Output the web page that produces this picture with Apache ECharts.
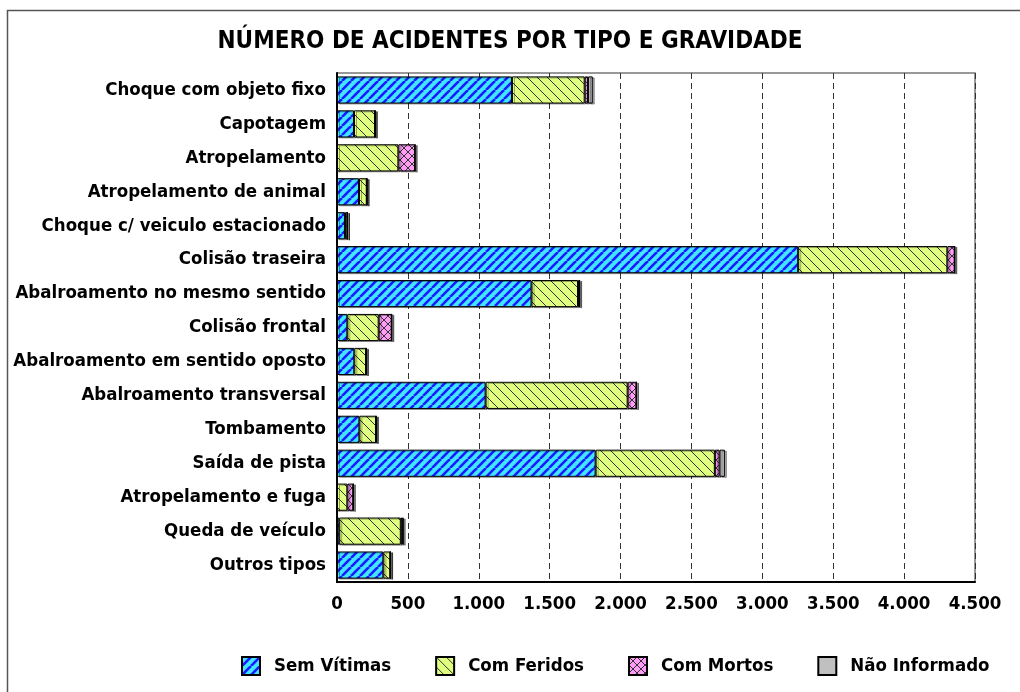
<!DOCTYPE html>
<html>
<head>
<meta charset="utf-8">
<script src="https://cdn.jsdelivr.net/npm/echarts@6/dist/echarts.min.js"></script>
<style>
  html, body { margin: 0; padding: 0; background: #fff; }
  #chart { width: 1020px; height: 692px; }
</style>
</head>
<body>
<div id="chart"></div>
<script>
// categorias (de cima para baixo)
const tipos = [
  'Choque com objeto fixo', 'Capotagem', 'Atropelamento', 'Atropelamento de animal',
  'Choque c/ veiculo estacionado', 'Colisão traseira', 'Abalroamento no mesmo sentido',
  'Colisão frontal', 'Abalroamento em sentido oposto', 'Abalroamento transversal',
  'Tombamento', 'Saída de pista', 'Atropelamento e fuga', 'Queda de veículo', 'Outros tipos'
];
const semVitimas   = [1234, 120, 0, 155, 56, 3253, 1372, 73, 122, 1048, 158, 1824, 0, 16, 327];
const comFeridos   = [513, 148, 433, 55, 17, 1052, 328, 221, 83, 1002, 117, 841, 73, 434, 49];
const comMortos    = [24, 0, 118, 0, 0, 52, 11, 92, 0, 62, 0, 33, 42, 14, 0];
const naoInformado = [33, 4, 0, 4, 2, 0, 0, 0, 4, 0, 4, 38, 0, 4, 4];
const xTicks = [0, 500, 1000, 1500, 2000, 2500, 3000, 3500, 4000, 4500];

// escolhe uma fonte condensada instalada, se houver
const measure = document.createElement('canvas').getContext('2d');
function textWidth(family, size, txt) {
  measure.font = 'bold ' + size + 'px ' + family;
  return measure.measureText(txt).width;
}
function pickFont() {
  const probe = 'Choque com objeto fixo WWmm';
  const base = textWidth('monospace', 40, probe);
  const cands = ['"Liberation Sans Narrow"', '"Arial Narrow"', '"DejaVu Sans Condensed"', '"Roboto Condensed"'];
  for (const f of cands) {
    if (Math.abs(textWidth(f + ', monospace', 40, probe) - base) > 1) return f;
  }
  return '"Liberation Sans"';
}
const FONT = pickFont();
// tamanho ajustado à largura do texto no original
function fitSize(txt, target) {
  const w = textWidth(FONT, 100, txt);
  return Math.round(100 * target / w * 2) / 2;
}
const titleSize = fitSize('NÚMERO DE ACIDENTES POR TIPO E GRAVIDADE', 590);
const labelSize = fitSize('Abalroamento no mesmo sentido', 309);
const legendSize = fitSize('Não Informado', 141);

// padrões de preenchimento
function makePattern(size, bg, draw) {
  const c = document.createElement('canvas');
  c.width = size; c.height = size;
  const ctx = c.getContext('2d');
  ctx.fillStyle = bg;
  ctx.fillRect(0, 0, size, size);
  draw(ctx, size);
  return c;
}
const patSem = makePattern(9, '#40e6ff', (ctx, s) => {
  ctx.strokeStyle = '#1a1aff';
  ctx.lineWidth = 2.6;
  for (let k = -1; k <= 1; k++) {
    ctx.beginPath();
    ctx.moveTo(k * s, s); ctx.lineTo(k * s + s, 0);
    ctx.stroke();
  }
});
const patFer = makePattern(10, '#e0ff80', (ctx, s) => {
  ctx.strokeStyle = '#333';
  ctx.lineWidth = 1;
  for (let k = -1; k <= 1; k++) {
    ctx.beginPath();
    ctx.moveTo(k * s, 0); ctx.lineTo(k * s + s, s);
    ctx.stroke();
  }
});
const patMor = makePattern(8, '#ff9cf5', (ctx, s) => {
  ctx.strokeStyle = '#333';
  ctx.lineWidth = 1;
  for (let k = -1; k <= 1; k++) {
    ctx.beginPath();
    ctx.moveTo(k * s, 0); ctx.lineTo(k * s + s, s);
    ctx.moveTo(k * s, s); ctx.lineTo(k * s + s, 0);
    ctx.stroke();
  }
});

function serie(name, data, fill) {
  return {
    name: name,
    type: 'bar',
    stack: 'total',
    data: data,
    barCategoryGap: '20%',
    itemStyle: {
      color: fill,
      borderColor: '#000',
      borderWidth: 1,
      shadowColor: 'rgba(0,0,0,0.35)',
      shadowOffsetX: 2,
      shadowOffsetY: 1
    },
    emphasis: { disabled: true }
  };
}

const chart = echarts.init(document.getElementById('chart'));
chart.setOption({
  animation: false,
  backgroundColor: '#fff',
  title: {
    text: 'NÚMERO DE ACIDENTES POR TIPO E GRAVIDADE',
    left: 'center',
    top: 25,
    textStyle: { fontFamily: FONT, fontSize: titleSize, fontWeight: 'bold', color: '#000' }
  },
  graphic: [{
    type: 'rect',
    shape: { x: 7.5, y: 10.5, width: 1100, height: 800 },
    style: { fill: 'none', stroke: '#555', lineWidth: 1.5 },
    silent: true
  }, {
    type: 'rect',
    shape: { x: 337, y: 73, width: 638, height: 509 },
    style: { fill: 'none', stroke: '#777', lineWidth: 1.5 },
    silent: true,
    z: -1
  }],
  legend: {
    left: 236,
    top: 651,
    itemWidth: 18,
    itemHeight: 18,
    itemGap: 44,
    icon: 'rect',
    textStyle: { fontFamily: FONT, fontSize: legendSize, fontWeight: 'bold', color: '#000', padding: [0, 0, 0, 9] },
    data: ['Sem Vítimas', 'Com Feridos', 'Com Mortos', 'Não Informado']
  },
  grid: { left: 337, right: 45, top: 73, bottom: 110 },
  xAxis: {
    type: 'value',
    min: xTicks[0],
    max: xTicks[xTicks.length - 1],
    interval: 500,
    axisLine: { show: true, lineStyle: { color: '#000', width: 2 } },
    axisTick: { show: false },
    axisLabel: {
      margin: 13,
      fontFamily: FONT, fontSize: labelSize, fontWeight: 'bold', color: '#000',
      formatter: v => v.toLocaleString('de-DE')
    },
    splitLine: { show: true, lineStyle: { color: '#333', type: [6, 4], width: 1 } }
  },
  yAxis: {
    type: 'category',
    inverse: true,
    data: tipos,
    axisLine: { show: true, lineStyle: { color: '#000', width: 2 } },
    axisTick: { show: false },
    axisLabel: {
      margin: 11,
      fontFamily: FONT, fontSize: labelSize, fontWeight: 'bold', color: '#000'
    }
  },
  series: [
    serie('Sem Vítimas', semVitimas, { image: patSem, repeat: 'repeat' }),
    serie('Com Feridos', comFeridos, { image: patFer, repeat: 'repeat' }),
    serie('Com Mortos', comMortos, { image: patMor, repeat: 'repeat' }),
    serie('Não Informado', naoInformado, '#c0c0c0')
  ]
});
</script>
</body>
</html>
